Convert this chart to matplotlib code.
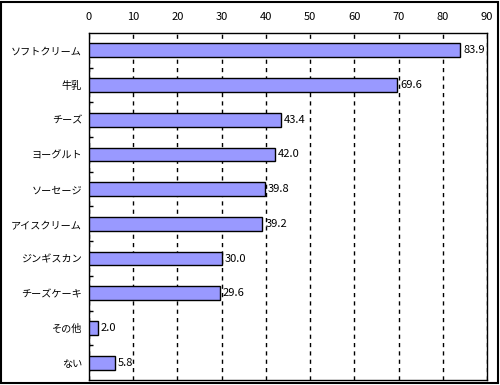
import matplotlib
matplotlib.use('Agg')
import matplotlib.pyplot as plt
from matplotlib.patches import Rectangle

plt.rcParams['font.family'] = ['Noto Sans CJK JP', 'DejaVu Sans']

categories = ['ソフトクリーム', '牛乳', 'チーズ', 'ヨーグルト', 'ソーセージ',
              'アイスクリーム', 'ジンギスカン', 'チーズケーキ', 'その他', 'ない']
values = [83.9, 69.6, 43.4, 42.0, 39.8, 39.2, 30.0, 29.6, 2.0, 5.8]
x_ticks = list(range(0, 100, 10))

fig = plt.figure(figsize=(5, 3.85), dpi=100)
ax = fig.add_axes([89 / 500, 5 / 385, 398 / 500, 347 / 385])

pos = list(range(len(categories)))
ax.barh(pos, values, height=0.4, color='#9999FF', edgecolor='black', linewidth=1, zorder=3)
for p, v in zip(pos, values):
    ax.text(v + 0.7, p, f'{v:.1f}', va='center', ha='left', fontsize=8, zorder=4)

ax.set_xlim(0, 90)
ax.set_ylim(len(categories) - 0.5, -0.5)
ax.set_xticks(x_ticks)
ax.xaxis.tick_top()
ax.tick_params(axis='x', length=0, pad=8, labelsize=8)
ax.set_yticks(pos)
ax.set_yticklabels(categories)
ax.tick_params(axis='y', length=0, pad=5, labelsize=7.3)
ax.set_yticks([p + 0.5 for p in pos[:-1]], minor=True)
ax.tick_params(axis='y', which='minor', direction='in', length=3, width=1)
ax.grid(axis='x', color='black', linestyle=(0, (3, 3)), linewidth=1, zorder=1)
for s in ax.spines.values():
    s.set_linewidth(1)
    s.set_color('black')

fig.patches.append(Rectangle((0.002, 0.004), 0.994, 0.99, transform=fig.transFigure,
                             fill=False, edgecolor='black', linewidth=1.5))

fig.savefig('out.png', dpi=100)
